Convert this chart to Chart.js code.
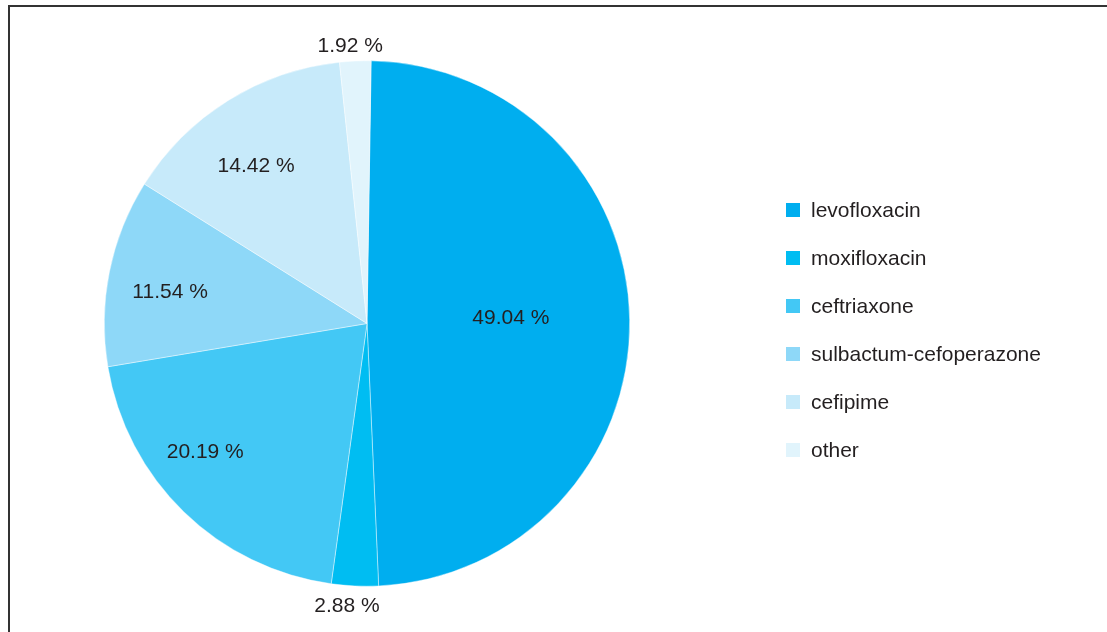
<!DOCTYPE html>
<html>
<head>
<meta charset="utf-8">
<script src="https://cdn.jsdelivr.net/npm/chart.js@4/dist/chart.umd.min.js"></script>
<style>
  html, body { margin: 0; padding: 0; background: #fff; }
  #wrap { position: relative; width: 1107px; height: 632px; }
</style>
</head>
<body>
<div id="wrap"><canvas id="pie" width="1107" height="632"></canvas></div>
<script>
// antibiotic share, percent
const drugs = ['levofloxacin', 'moxifloxacin', 'ceftriaxone', 'sulbactum-cefoperazone', 'cefipime', 'other'];
const shares = [49.04, 2.88, 20.19, 11.54, 14.42, 1.92];
const sliceColors = ['#00aeef', '#00bdf2', '#43c8f5', '#8ed8f8', '#c7eafa', '#e1f4fc'];

const FONT = '"Liberation Sans", Arial, sans-serif';
const TEXT = '#231f20';

// frame: left and top rule only
const framePlugin = {
  id: 'frame',
  beforeDraw(chart) {
    const ctx = chart.ctx;
    ctx.save();
    ctx.fillStyle = '#fff';
    ctx.fillRect(0, 0, chart.width, chart.height);
    ctx.strokeStyle = '#333';
    ctx.lineWidth = 2;
    ctx.beginPath();
    ctx.moveTo(9, chart.height);
    ctx.lineTo(9, 6);
    ctx.lineTo(chart.width, 6);
    ctx.stroke();
    ctx.restore();
  }
};

// percent labels: radius as a fraction of the pie, angle nudge in degrees
const labelRadius = [0.548, 1.08, 0.786, 0.759, 0.733, 1.059];
const labelNudge = [-1.4, 1.4, 7.4, -2.2, -3.2, -0.9];
const sliceLabels = {
  id: 'sliceLabels',
  afterDatasetsDraw(chart) {
    const ctx = chart.ctx;
    const meta = chart.getDatasetMeta(0);
    ctx.save();
    ctx.font = '21px ' + FONT;
    ctx.fillStyle = TEXT;
    ctx.textAlign = 'center';
    ctx.textBaseline = 'middle';
    meta.data.forEach((arc, i) => {
      const p = arc.getProps(['x', 'y', 'startAngle', 'endAngle', 'outerRadius'], true);
      const mid = (p.startAngle + p.endAngle) / 2 + labelNudge[i] * Math.PI / 180;
      const r = p.outerRadius * labelRadius[i];
      const v = chart.data.datasets[0].data[i];
      ctx.fillText(v.toFixed(2) + ' %', p.x + Math.cos(mid) * r, p.y + Math.sin(mid) * r);
    });
    ctx.restore();
  }
};

// legend column on the right
const sideLegend = {
  id: 'sideLegend',
  afterDraw(chart) {
    const ctx = chart.ctx;
    const ds = chart.data.datasets[0];
    ctx.save();
    ctx.font = '21px ' + FONT;
    ctx.textBaseline = 'middle';
    chart.data.labels.forEach((name, i) => {
      const y = 210 + i * 48;
      ctx.fillStyle = ds.backgroundColor[i];
      ctx.fillRect(786, y - 7, 14, 14);
      ctx.fillStyle = TEXT;
      ctx.fillText(name, 811, y + 1);
    });
    ctx.restore();
  }
};

new Chart(document.getElementById('pie'), {
  type: 'pie',
  data: {
    labels: drugs,
    datasets: [{
      data: shares,
      backgroundColor: sliceColors,
      borderColor: 'rgba(255,255,255,0.7)',
      borderWidth: 0.6
    }]
  },
  options: {
    responsive: false,
    animation: false,
    devicePixelRatio: 1,
    rotation: 0.9,
    layout: { padding: { left: 104, right: 477, top: 60, bottom: 45 } },
    plugins: {
      legend: { display: false },
      tooltip: { enabled: false }
    }
  },
  plugins: [framePlugin, sliceLabels, sideLegend]
});
</script>
</body>
</html>
